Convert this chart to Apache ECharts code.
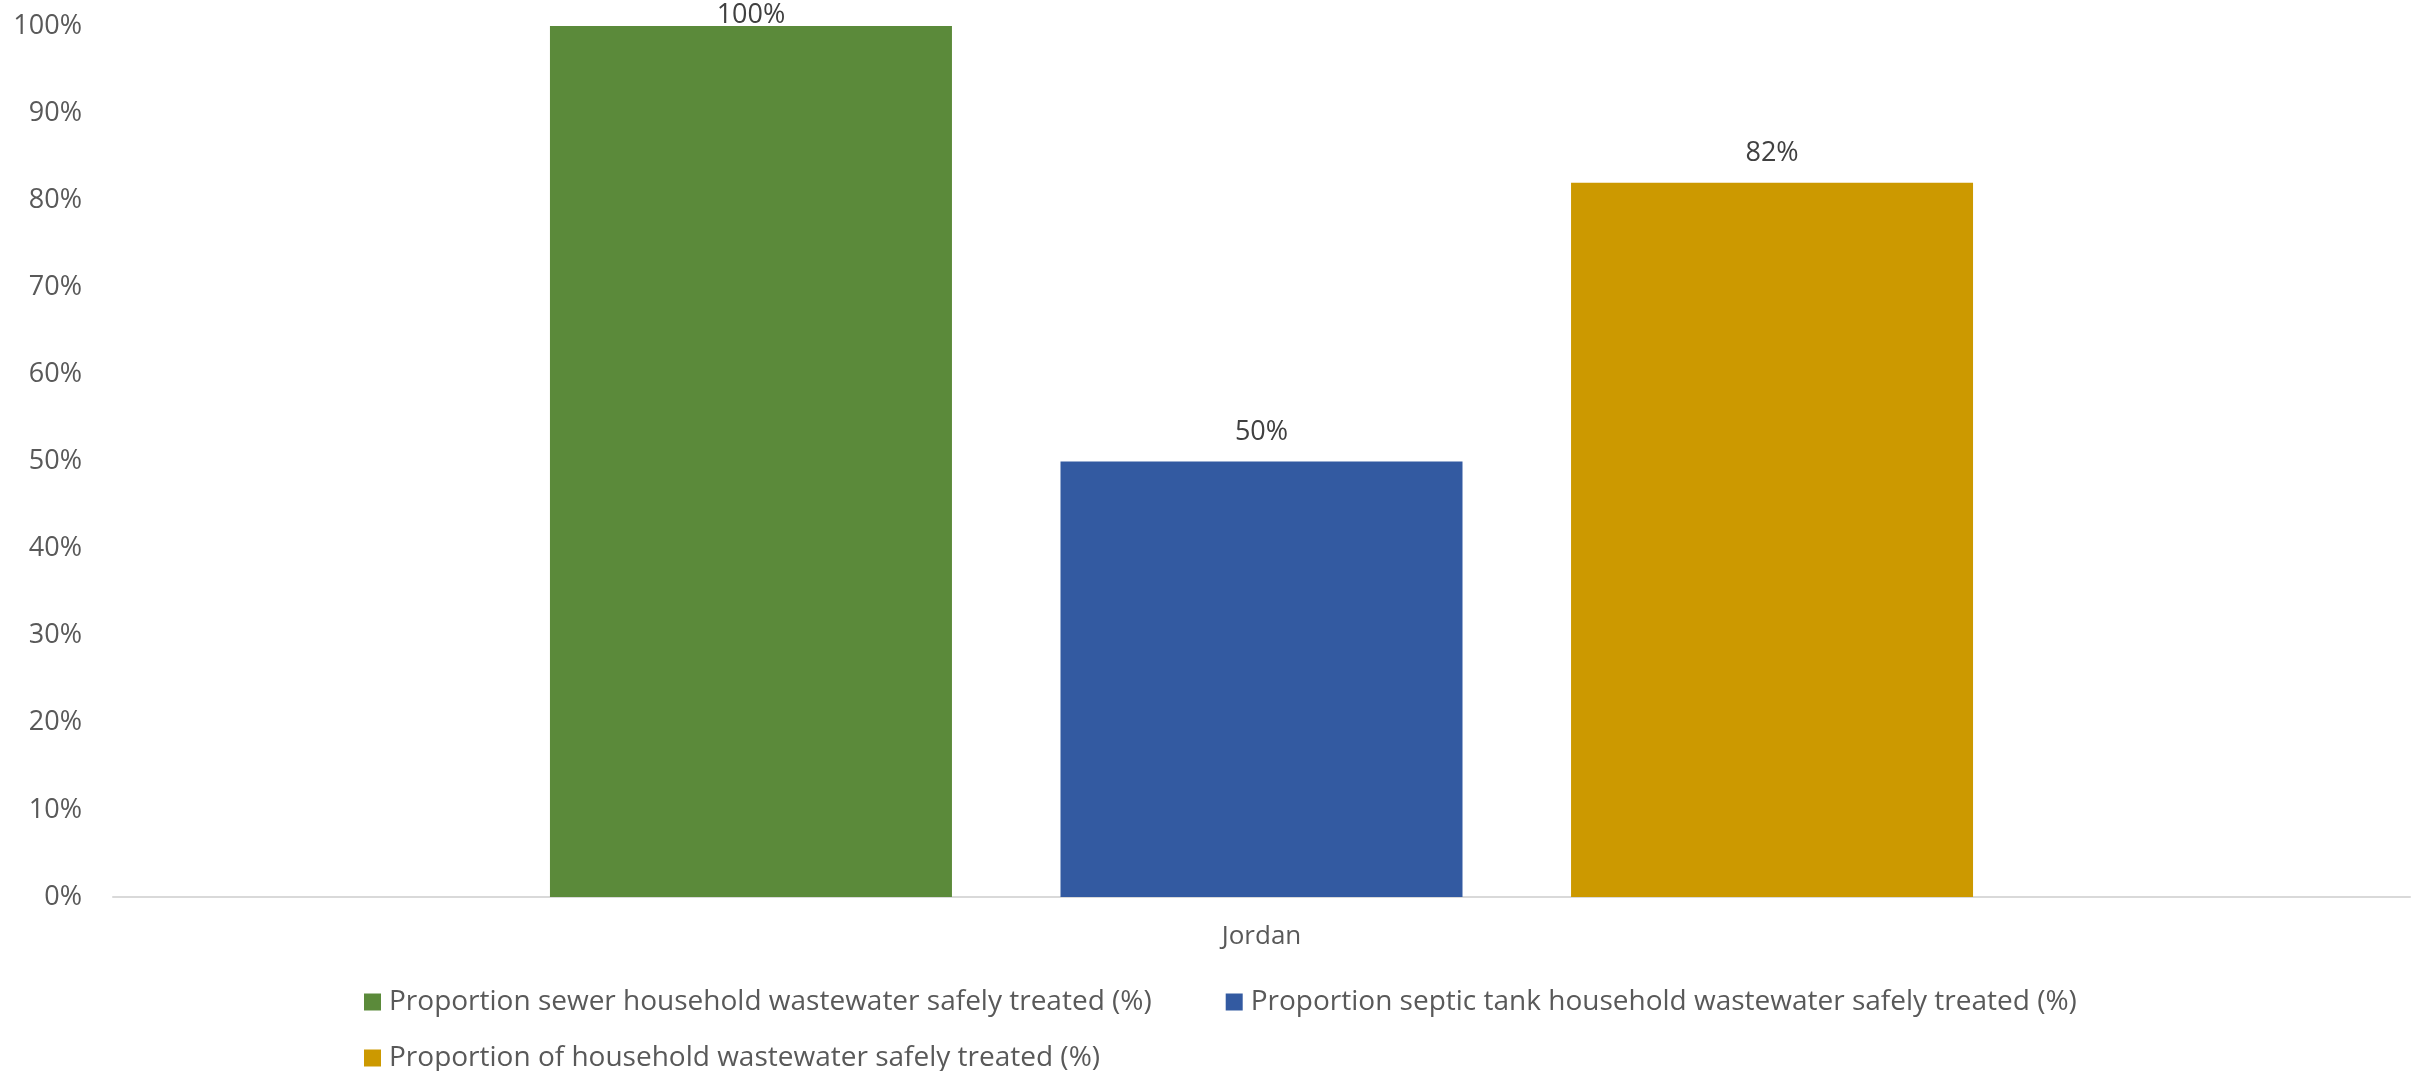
<!DOCTYPE html>
<html>
<head>
<meta charset="utf-8">
<script src="https://cdn.jsdelivr.net/npm/echarts@6/dist/echarts.min.js"></script>
<style>
html,body{margin:0;padding:0;background:#fff;}
#chart{width:2420px;height:1071px;}
</style>
</head>
<body>
<div id="chart"></div>
<script>
const categories = ['Jordan'];
const seriesNames = [
  'Proportion sewer household wastewater safely treated (%)',
  'Proportion septic tank household wastewater safely treated (%)',
  'Proportion of household wastewater safely treated (%)'
];
const sewerValues = [100];
const septicValues = [50];
const totalValues = [82];
const yTicks = [0, 10, 20, 30, 40, 50, 60, 70, 80, 90, 100];

const colors = ['#5B8A3A', '#335AA1', '#CC9900'];
const FONT = '"Open Sans", "Liberation Sans", sans-serif';

function barSeries(name, data, color, dist) {
  return {
    name: name,
    type: 'bar',
    data: data,
    barWidth: 402,
    barGap: '27%',
    itemStyle: { color: color },
    label: {
      show: true,
      position: 'top',
      distance: dist,
      formatter: '{c}%',
      color: '#404040',
      fontSize: 27,
      fontFamily: FONT
    }
  };
}

function legendRow(top, names) {
  return {
    left: 364,
    top: top,
    padding: 0,
    itemWidth: 17,
    itemHeight: 17,
    itemGap: 74,
    icon: 'rect',
    orient: 'horizontal',
    textStyle: { color: '#595959', fontSize: 28, fontFamily: FONT, padding: [0, 0, 0, 3] },
    data: names
  };
}

const chart = echarts.init(document.getElementById('chart'), null, { renderer: 'canvas' });
chart.setOption({
  animation: false,
  backgroundColor: '#ffffff',
  grid: { left: 113, right: 10, top: 26, bottom: 174, containLabel: false },
  legend: [
    legendRow(988, [seriesNames[0], seriesNames[1]]),
    legendRow(1044, [seriesNames[2]])
  ],
  xAxis: {
    type: 'category',
    data: categories,
    axisLine: { show: true, lineStyle: { color: '#D9D9D9', width: 2 } },
    axisTick: { show: false },
    axisLabel: { color: '#595959', fontSize: 26, fontFamily: FONT, margin: 27 }
  },
  yAxis: {
    type: 'value',
    min: yTicks[0],
    max: yTicks[yTicks.length - 1],
    interval: yTicks[1] - yTicks[0],
    axisLine: { show: false },
    axisTick: { show: false },
    splitLine: { show: false },
    axisLabel: { color: '#595959', fontSize: 27, fontFamily: FONT, margin: 31, formatter: '{value}%' }
  },
  series: [
    barSeries(seriesNames[0], sewerValues, colors[0], -3),
    barSeries(seriesNames[1], septicValues, colors[1], 16),
    barSeries(seriesNames[2], totalValues, colors[2], 16)
  ]
});
</script>
</body>
</html>
